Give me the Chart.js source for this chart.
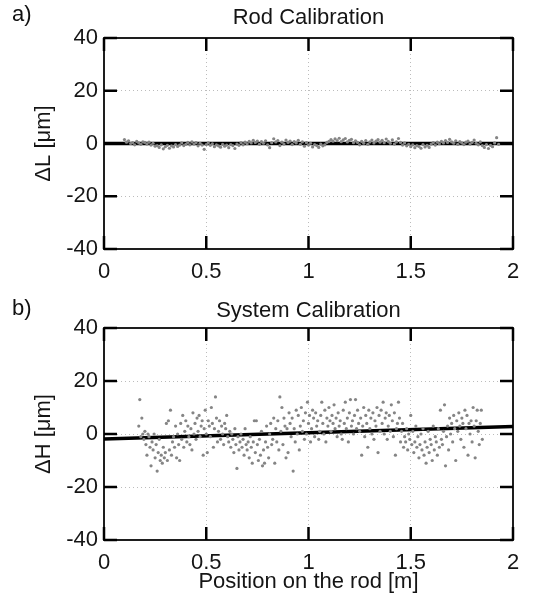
<!DOCTYPE html>
<html><head><meta charset="utf-8">
<script src="https://cdn.jsdelivr.net/npm/chart.js@4"></script>
<style>
html,body{margin:0;padding:0;background:#fff;}
#wrap{position:relative;width:555px;height:596px;overflow:hidden;font-family:"Liberation Sans",Arial,sans-serif;}
canvas{position:absolute;left:0;}
.lab{position:absolute;left:12px;font-size:22px;line-height:22px;color:#111;}
</style></head><body>
<div id="wrap">
<canvas id="c1" width="555" height="290" style="top:0;width:555px;height:290px"></canvas>
<canvas id="c2" width="555" height="306" style="top:290px;width:555px;height:306px"></canvas>
<div class="lab" style="top:3px">a)</div>
<div class="lab" style="top:297px">b)</div>
</div>
<script>
// ---- a) Rod Calibration ----
const rodPos = [
0.10,0.11,0.12,0.13,0.14,0.15,0.16,0.17,0.18,0.19,
0.20,0.21,0.22,0.23,0.24,0.25,0.26,0.27,0.28,0.29,
0.30,0.31,0.32,0.33,0.34,0.35,0.36,0.37,0.38,0.39,
0.40,0.41,0.42,0.43,0.44,0.45,0.46,0.47,0.48,0.49,
0.50,0.51,0.52,0.53,0.54,0.55,0.56,0.57,0.58,0.59,
0.60,0.61,0.62,0.63,0.64,0.65,0.66,0.67,0.68,0.69,
0.70,0.71,0.72,0.73,0.74,0.75,0.76,0.77,0.78,0.79,
0.80,0.81,0.82,0.83,0.84,0.85,0.86,0.87,0.88,0.89,
0.90,0.91,0.92,0.93,0.94,0.95,0.96,0.97,0.98,0.99,
1.00,1.01,1.02,1.03,1.04,1.05,1.06,1.07,1.08,1.09,
1.10,1.11,1.12,1.13,1.14,1.15,1.16,1.17,1.18,1.19,
1.20,1.21,1.22,1.23,1.24,1.25,1.26,1.27,1.28,1.29,
1.30,1.31,1.32,1.33,1.34,1.35,1.36,1.37,1.38,1.39,
1.40,1.41,1.42,1.43,1.44,1.45,1.46,1.47,1.48,1.49,
1.50,1.51,1.52,1.53,1.54,1.55,1.56,1.57,1.58,1.59,
1.60,1.61,1.62,1.63,1.64,1.65,1.66,1.67,1.68,1.69,
1.70,1.71,1.72,1.73,1.74,1.75,1.76,1.77,1.78,1.79,
1.80,1.81,1.82,1.83,1.84,1.85,1.86,1.87,1.88,1.89,
1.90,1.91,1.92,1.93];
const rodDL = [
1.5,0.5,1,0,0.3,-0.5,0.8,0.2,-0.3,0.6,
0.4,-0.2,0.5,-0.6,0.1,-1,-0.8,-1.5,-0.5,-2,
-1.2,-0.7,-1.8,-0.9,-1.3,-0.4,-1.1,-0.6,0.2,-0.8,
-0.3,0.4,-0.5,0.6,-0.2,0.3,-0.9,0.1,-0.6,-2.2,
-0.4,0.2,-0.7,-0.1,-1.2,-0.5,-0.9,-1.4,-0.3,-1,
-0.6,-1.6,-0.4,-0.8,-1.9,-0.2,-0.7,0.3,-0.5,0.5,
-0.1,0.8,0.2,1.2,0.4,0.9,-0.3,0.7,0.1,1,
-0.5,-1.6,0.3,1.8,0.6,1.1,-0.8,0.5,-0.2,1.3,
0.4,0.9,-0.4,0.7,0.2,1.2,-0.3,0.6,-1,0.3,
-0.6,0.1,-1.3,-0.4,-0.8,-1.5,-0.2,-0.9,-0.5,0.4,
0.8,1.5,0.9,1.8,1.1,2,0.7,1.4,1.9,0.6,
1.2,1.6,0.3,1,0.4,-0.5,0.8,0.1,1.1,-0.3,
0.6,1.3,0.2,0.9,1.5,0.5,1.2,0.3,1.7,0.8,
0.1,1.4,-0.2,0.6,1.9,0.4,-0.6,0.2,-0.9,-0.3,
-1.2,-0.5,-1.6,-0.8,-1.1,-1.8,-0.4,-1.3,-0.7,-1.5,
-0.2,0.3,-0.6,0.5,-0.1,0.8,0.2,1.1,0.4,1.6,
0.6,0.1,1,-0.3,0.7,0.2,-0.4,0.5,0.9,-0.2,
0.4,1.3,0.1,-0.5,0.6,-0.8,-1.5,-0.4,-1.9,-0.7,
-1.2,0.2,2.2,-0.3];
const rodFitX = [0, 2];
const rodFitY = [0, 0];

// ---- b) System Calibration ----
const sysPos = [
0.17,0.175,0.18,0.185,0.19,0.195,0.2,0.205,0.21,0.215,
0.22,0.225,0.23,0.235,0.24,0.245,0.25,0.255,0.26,0.265,
0.27,0.275,0.28,0.285,0.29,0.295,0.3,0.305,0.31,0.315,
0.32,0.325,0.33,0.335,0.34,0.345,0.35,0.355,0.36,0.365,
0.37,0.375,0.38,0.385,0.39,0.395,0.4,0.405,0.41,0.415,
0.42,0.425,0.43,0.435,0.44,0.445,0.45,0.455,0.46,0.465,
0.47,0.475,0.48,0.485,0.49,0.495,0.5,0.505,0.51,0.515,
0.52,0.525,0.53,0.535,0.54,0.545,0.55,0.555,0.56,0.565,
0.57,0.575,0.58,0.585,0.59,0.595,0.6,0.605,0.61,0.615,
0.62,0.625,0.63,0.635,0.64,0.645,0.65,0.655,0.66,0.665,
0.67,0.675,0.68,0.685,0.69,0.695,0.7,0.705,0.71,0.715,
0.72,0.725,0.73,0.735,0.74,0.745,0.75,0.755,0.76,0.765,
0.77,0.775,0.78,0.785,0.79,0.795,0.8,0.805,0.81,0.815,
0.82,0.825,0.83,0.835,0.84,0.845,0.85,0.855,0.86,0.865,
0.87,0.875,0.88,0.885,0.89,0.895,0.9,0.905,0.91,0.915,
0.92,0.925,0.93,0.935,0.94,0.945,0.95,0.955,0.96,0.965,
0.97,0.975,0.98,0.985,0.99,0.995,1.0,
1.005,1.01,1.015,1.02,1.025,1.03,1.035,1.04,1.045,1.05,
1.055,1.06,1.065,1.07,1.075,1.08,1.085,1.09,1.095,1.1,
1.105,1.11,1.115,1.12,1.125,1.13,1.135,1.14,1.145,1.15,
1.155,1.16,1.165,1.17,1.175,1.18,1.185,1.19,1.195,1.2,
1.205,1.21,1.215,1.22,1.225,1.23,1.235,1.24,1.245,1.25,
1.255,1.26,1.265,1.27,1.275,1.28,1.285,1.29,1.295,1.3,
1.305,1.31,1.315,1.32,1.325,1.33,1.335,1.34,1.345,1.35,
1.355,1.36,1.365,1.37,1.375,1.38,1.385,1.39,1.395,1.4,
1.405,1.41,1.415,1.42,1.425,1.43,1.435,1.44,1.445,1.45,
1.455,1.46,1.465,1.47,1.475,1.48,1.485,1.49,1.495,1.5,
1.505,1.51,1.515,1.52,1.525,1.53,1.535,1.54,1.545,1.55,
1.555,1.56,1.565,1.57,1.575,1.58,1.585,1.59,1.595,1.6,
1.605,1.61,1.615,1.62,1.625,1.63,1.635,1.64,1.645,1.65,
1.655,1.66,1.665,1.67,1.675,1.68,1.685,1.69,1.695,1.7,
1.705,1.71,1.715,1.72,1.725,1.73,1.735,1.74,1.745,1.75,
1.755,1.76,1.765,1.77,1.775,1.78,1.785,1.79,1.795,1.8,
1.805,1.81,1.815,1.82,1.825,1.83,1.835,1.84,1.845,1.85];
const sysDH = [
3,13,-1,6,0,-2,1,-4,-8,0,
-1,-5,-12,-3,-6,0,-9,-4,-14,-7,
-2,-10,-8,-11,-5,-9,-7,4,-10,5,
-6,9,-8,-3,-1,-5,3,-9,0,-4,
-10,4,-2,7,-5,1,5,-3,3,-1,
-4,2,-6,8,0,4,-2,6,1,7,
-1,3,5,-8,2,9,0,-7,5,3,
-1,10,4,-5,2,14,6,-3,1,5,
-2,3,0,-4,4,2,7,-1,-3,1,
-5,0,-2,-7,2,-4,-13,-1,-6,-3,
0,-5,-2,-8,2,-4,-6,-3,-9,-1,
-5,-11,-3,5,-7,5,-4,-10,-2,-8,
1,-12,-6,-11,-3,3,-5,-9,0,4,
-4,-2,6,-11,2,-3,5,-6,14,1,
10,-4,6,3,-9,2,-7,8,4,-1,
6,-14,2,-3,9,0,7,-6,3,10,
1,5,-2,8,0,12,4,
7,-3,2,9,6,-1,8,3,5,-2,
1,7,12,4,0,9,-3,6,3,10,
5,1,7,4,11,2,6,-1,8,3,
5,0,-2,9,4,12,2,6,-3,8,
13,3,5,0,7,13,2,9,4,1,
6,-8,3,10,-1,7,4,-5,9,2,
6,0,8,-2,5,3,10,-7,7,1,
9,4,12,0,6,8,-2,3,7,1,
11,5,-1,8,-8,2,4,12,6,-3,
1,4,-5,-1,-3,2,-6,0,-2,7,
-4,1,-7,-3,3,-5,-1,-9,-4,0,
-6,2,-8,-3,-11,-5,1,-7,-2,-4,
-10,3,-6,-1,-3,-8,2,-5,9,-2,
-4,1,11,-12,-1,3,-6,6,0,4,
-3,7,2,-10,5,1,8,3,-2,6,
4,-5,9,2,7,-8,4,0,5,-3,
10,3,-9,5,9,1,-4,4,9,-2];
const sysFitX = [0, 2];
const sysFitY = [-1.9, 2.8];

// ---- axes ----
const xRange = [0, 2], xStep = 0.5;
const yRange = [-40, 40], yStep = 20;
const xTickVals = [0, 0.5, 1, 1.5, 2];
const yTickVals = [-40, -20, 0, 20, 40];

const FONT = '"Liberation Sans", Arial, Helvetica, sans-serif';
const TXT = '#151515';
const EDGE = '#1e1e1e';
const TICK_PX = 13, PLOT_W = 409, PLOT_H = 211;

function zip(xs, ys) { return xs.map((v, i) => ({x: v, y: ys[i]})); }

// inward tick marks on all four box sides, as short line segments in data space
function tickSegments() {
  const dx = TICK_PX / PLOT_W * (xRange[1] - xRange[0]);
  const dy = TICK_PX / PLOT_H * (yRange[1] - yRange[0]);
  const pts = [];
  xTickVals.forEach(v => {
    pts.push({x: v, y: yRange[1]}, {x: v, y: yRange[1] - dy}, {x: v, y: null});
    pts.push({x: v, y: yRange[0]}, {x: v, y: yRange[0] + dy}, {x: v, y: null});
  });
  yTickVals.forEach(v => {
    pts.push({x: xRange[0], y: v}, {x: xRange[0] + dx, y: v}, {x: xRange[0], y: null});
    pts.push({x: xRange[1], y: v}, {x: xRange[1] - dx, y: v}, {x: xRange[1], y: null});
  });
  return pts;
}

function gridColor(min, max) {
  return c => (c.tick && (c.tick.value === min || c.tick.value === max)) ? 'rgba(0,0,0,0)' : '#bcbcbc';
}

const tickFmt = v => String(Math.round(v * 100) / 100);

function makeChart(id, o) {
  return new Chart(document.getElementById(id), {
    type: 'scatter',
    data: {
      datasets: [
        {type: 'line', data: tickSegments(), borderColor: '#000', borderWidth: 2.5, pointRadius: 0,
         fill: false, tension: 0, spanGaps: false, order: -1, clip: false},
        {type: 'scatter', data: zip(o.px, o.py), pointRadius: 1.6, pointBackgroundColor: '#858585',
         backgroundColor: '#858585', borderWidth: 0, pointBorderWidth: 0, order: 0},
        {type: 'line', data: zip(o.fx, o.fy), borderColor: '#000', borderWidth: 3.5,
         pointRadius: 0, fill: false, tension: 0, order: 1}
      ]
    },
    options: {
      responsive: false, animation: false, devicePixelRatio: 1,
      layout: {padding: 0},
      plugins: {
        legend: {display: false}, tooltip: {enabled: false},
        title: {display: true, text: o.title, fullSize: false, color: TXT,
                font: {family: FONT, size: 22, weight: 'normal'}, padding: {top: o.titlePad, bottom: 0}}
      },
      scales: {
        x: {type: 'linear', position: 'bottom', min: xRange[0], max: xRange[1],
            ticks: {stepSize: xStep, color: TXT, font: {family: FONT, size: 22}, padding: 10, maxRotation: 0, callback: tickFmt},
            grid: {color: gridColor(xRange[0], xRange[1]), lineWidth: 1, drawTicks: false},
            border: {display: true, color: EDGE, width: 2, dash: [1, 3]},
            title: o.xTitle ? {display: true, text: o.xTitle, color: TXT, font: {family: FONT, size: 22}, padding: {top: 0, bottom: 1}} : {display: false},
            afterFit: s => { s.height = o.bottomH; }},
        y: {type: 'linear', position: 'left', min: yRange[0], max: yRange[1],
            ticks: {stepSize: yStep, color: TXT, font: {family: FONT, size: 22}, padding: 6, callback: tickFmt},
            grid: {color: gridColor(yRange[0], yRange[1]), lineWidth: 1, drawTicks: false},
            border: {display: true, color: EDGE, width: 2, dash: [1, 3]},
            title: {display: true, text: o.yTitle, color: TXT, font: {family: FONT, size: 22}, padding: {top: 31, bottom: 0}},
            afterFit: s => { s.width = 104; }},
        x2: {type: 'linear', position: 'top', min: xRange[0], max: xRange[1],
             ticks: {display: false}, grid: {display: false},
             border: {display: true, color: EDGE, width: 2},
             afterFit: s => { s.height = o.topH; }},
        y2: {type: 'linear', position: 'right', min: yRange[0], max: yRange[1],
             ticks: {display: false}, grid: {display: false},
             border: {display: true, color: EDGE, width: 2},
             afterFit: s => { s.width = 42; }}
      }
    }
  });
}

makeChart('c1', {px: rodPos, py: rodDL, fx: rodFitX, fy: rodFitY, title: 'Rod Calibration',
  yTitle: '\u0394L [\u03bcm]', titlePad: 5, topH: 6.6, bottomH: 41});
makeChart('c2', {px: sysPos, py: sysDH, fx: sysFitX, fy: sysFitY, title: 'System Calibration',
  yTitle: '\u0394H [\u03bcm]', xTitle: 'Position on the rod [m]', titlePad: 7.3, topH: 4.3, bottomH: 56});
</script>
</body></html>
